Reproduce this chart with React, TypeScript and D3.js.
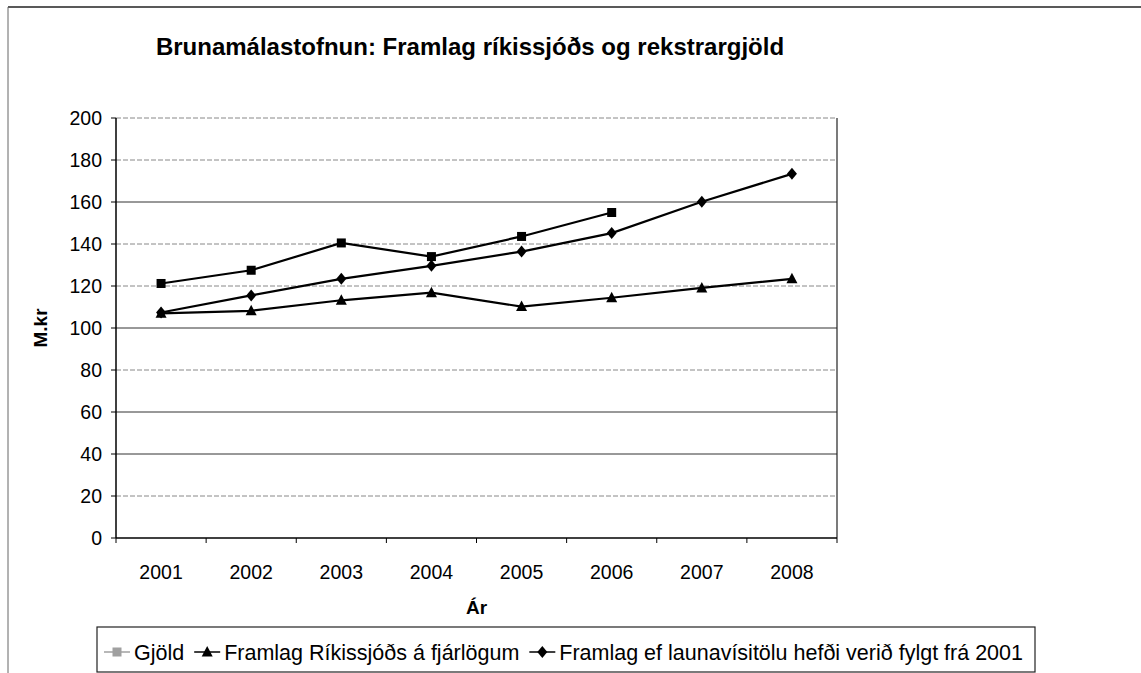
import React from "react";
import * as d3 from "d3";

const years = ["2001", "2002", "2003", "2004", "2005", "2006", "2007", "2008"];
const gjold: (number | null)[] = [121.2, 127.5, 140.5, 134, 143.6, 155, null, null];
const framlag: number[] = [107, 108.2, 113.2, 116.8, 110.2, 114.4, 119.1, 123.4];
const launavisitala: number[] = [107.4, 115.5, 123.4, 129.6, 136.4, 145.2, 160.1, 173.4];
const yTicks = [0, 20, 40, 60, 80, 100, 120, 140, 160, 180, 200];
const seriesNames = ["Gjöld", "Framlag Ríkissjóðs á fjárlögum", "Framlag ef launavísitölu hefði verið fylgt frá 2001"];
const title = "Brunamálastofnun: Framlag ríkissjóðs og rekstrargjöld";
const yTitle = "M.kr";
const xTitle = "Ár";

const W = 1141, H = 673;
const plot = { left: 116, right: 837, top: 118, bottom: 538 };
const FONT = "Liberation Sans, Arial, sans-serif";
const LEGEND_FS = 21.5;

function measure(text: string, size: number, weight = "normal"): number {
  const c = document.createElement("canvas").getContext("2d");
  if (!c) return text.length * size * 0.5;
  c.font = `${weight} ${size}px "Liberation Sans", Arial, sans-serif`;
  return c.measureText(text).width;
}

function Marker({ type, x, y, color = "#000" }: { type: string; x: number; y: number; color?: string }) {
  if (type === "square") return <rect x={x - 4.5} y={y - 4.5} width={9} height={9} fill={color} />;
  if (type === "triangle") return <path d={`M${x},${y - 6}L${x + 5.5},${y + 4.5}L${x - 5.5},${y + 4.5}Z`} fill={color} />;
  return <path d={`M${x},${y - 6}L${x + 5},${y}L${x},${y + 6}L${x - 5},${y}Z`} fill={color} />;
}

export default function App() {
  const x = d3.scaleBand<string>().domain(years).range([plot.left, plot.right]);
  const y = d3.scaleLinear().domain([0, 200]).range([plot.bottom, plot.top]);
  const cx = (yr: string) => (x(yr) as number) + x.bandwidth() / 2;

  const series = [
    { name: seriesNames[0], data: gjold, marker: "square" },
    { name: seriesNames[1], data: framlag as (number | null)[], marker: "triangle" },
    { name: seriesNames[2], data: launavisitala as (number | null)[], marker: "diamond" },
  ];

  const line = d3
    .line<[string, number | null]>()
    .defined((d) => d[1] != null)
    .x((d) => cx(d[0]))
    .y((d) => y(d[1] as number));

  const markers = ["square", "triangle", "diamond"];
  const keyColors = ["#a0a0a0", "#000", "#000"];
  let cursor = 104;
  const legendItems = seriesNames.map((name, i) => {
    const keyX = cursor;
    const textX = keyX + 30;
    cursor = textX + measure(name, LEGEND_FS) + 10;
    return { keyX, textX, name, marker: markers[i], color: keyColors[i] };
  });
  const legendRight = Math.max(1030, cursor + 2);

  const gridSolid = new Set([160, 100, 60, 40]);
  const legendY = 652;

  return (
    <svg width={W} height={H} style={{ position: "absolute", left: 0, top: 0, background: "#fff" }} fontFamily={FONT}>
      <rect x={0} y={0} width={W} height={H} fill="#fff" />
      {/* outer frame */}
      <line x1={8} y1={7} x2={W} y2={7} stroke="#222" strokeWidth={1.5} />
      <line x1={8} y1={7} x2={8} y2={H} stroke="#666" strokeWidth={1} />

      <text x={470} y={55} textAnchor="middle" fontSize={24} fontWeight="bold">{title}</text>

      {/* gridlines */}
      {yTicks.filter((t) => t > 0).map((t) => (
        <line key={t} x1={plot.left} x2={plot.right} y1={y(t)} y2={y(t)}
          stroke={gridSolid.has(t) ? "#333" : "#888"} strokeWidth={1}
          strokeDasharray={gridSolid.has(t) ? undefined : "5,2"} />
      ))}
      {/* plot border */}
      <line x1={plot.right} x2={plot.right} y1={plot.top} y2={plot.bottom} stroke="#222" strokeWidth={1.2} />
      <line x1={plot.left} x2={plot.left} y1={plot.top} y2={plot.bottom} stroke="#000" strokeWidth={1.5} />
      <line x1={plot.left} x2={plot.right} y1={plot.bottom} y2={plot.bottom} stroke="#000" strokeWidth={1.5} />

      {/* y axis */}
      {yTicks.map((t) => (
        <g key={t}>
          <line x1={plot.left - 5} x2={plot.left} y1={y(t)} y2={y(t)} stroke="#000" />
          <text x={102} y={y(t)} dy="0.36em" textAnchor="end" fontSize={19.5}>{t}</text>
        </g>
      ))}
      <text transform={`translate(47,${(plot.top + plot.bottom) / 2}) rotate(-90)`} textAnchor="middle" fontSize={19} fontWeight="bold">{yTitle}</text>

      {/* x axis */}
      {[...years.map((yr) => x(yr) as number), plot.right].map((px, i) => (
        <line key={i} x1={px} x2={px} y1={plot.bottom} y2={plot.bottom + 5} stroke="#000" />
      ))}
      {years.map((yr) => (
        <text key={yr} x={cx(yr)} y={572} dy="0.36em" textAnchor="middle" fontSize={19.5}>{yr}</text>
      ))}
      <text x={(plot.left + plot.right) / 2} y={614} textAnchor="middle" fontSize={19} fontWeight="bold">{xTitle}</text>

      {/* series */}
      {series.map((s) => {
        const pts = years.map((yr, i) => [yr, s.data[i]] as [string, number | null]);
        return (
          <g key={s.name}>
            <path d={line(pts) || ""} fill="none" stroke="#000" strokeWidth={2.2} />
            {pts.filter((p) => p[1] != null).map((p) => (
              <Marker key={p[0]} type={s.marker} x={cx(p[0])} y={y(p[1] as number)} />
            ))}
          </g>
        );
      })}

      {/* legend */}
      <rect x={97} y={627} width={legendRight - 97} height={45} fill="none" stroke="#222" strokeWidth={1.2} />
      {legendItems.map((it, i) => (
        <g key={i}>
          <line x1={it.keyX} x2={it.keyX + 26} y1={legendY} y2={legendY} stroke={it.color} strokeWidth={1.5} />
          <Marker type={it.marker} x={it.keyX + 13} y={legendY} color={it.color} />
          <text x={it.textX} y={legendY} dy="0.36em" fontSize={LEGEND_FS}>{it.name}</text>
        </g>
      ))}
    </svg>
  );
}
